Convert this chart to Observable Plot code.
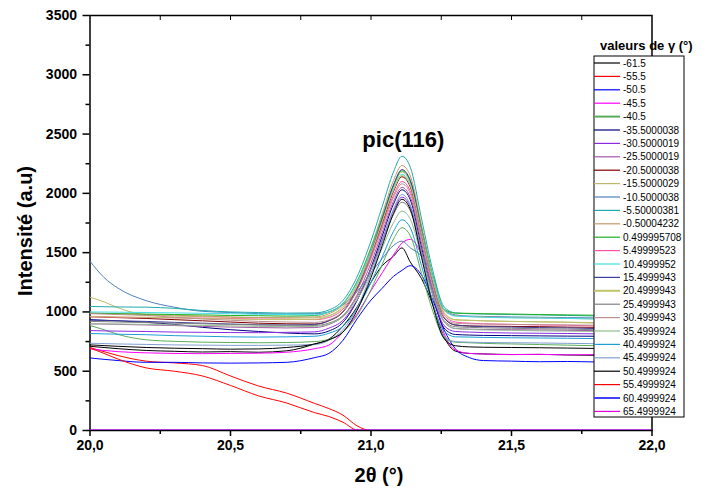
<!DOCTYPE html>
<html><head><meta charset="utf-8">
<script src="https://cdn.jsdelivr.net/npm/d3@7"></script>
<script src="https://cdn.jsdelivr.net/npm/@observablehq/plot@0.6"></script>
<style>body{margin:0;background:#fff}#chart{width:710px;height:492px}</style>
</head><body><div id="chart"></div>
<script>
// 2θ grid (degrees)
const twoTheta = [20.0,20.05,20.1,20.2,20.3,20.4,20.5,20.6,20.7,20.8,20.85,20.9,20.95,21.0,21.04,21.08,21.11,21.14,21.18,21.22,21.26,21.3,21.35,21.4,21.5,21.6,21.7,21.8,21.9,22.0];

const gammaLabels = ["-61.5","-55.5","-50.5","-45.5","-40.5","-35.5000038","-30.5000019","-25.5000019","-20.5000038","-15.5000029","-10.5000038","-5.50000381","-0.50004232","0.499995708","5.49999523","10.4999952","15.4999943","20.4999943","25.4999943","30.4999943","35.4999924","40.4999924","45.4999924","50.4999924","55.4999924","60.4999924","65.4999924"];

// intensities (a.u.) per γ value, on the 2θ grid
const g_m61_5 = [710,700,690,675,668,662,665,660,672,730, 770,880,1040,1250,1390,1470,1540,1420,1280,1060,790, 670,650,646,641,642,637,634,632,630];
const g_m55_5 = [700,665,632,585,570,548,460,375,315,228, 185,130,40,0,0,0,0,0,0,0,0, 0,0,0,0,0,0,0,0,0];
const g_m50_5 = [612,600,590,575,575,570,568,570,575,615, 650,760,940,1100,1200,1300,1350,1390,1310,1100,850, 690,615,590,585,580,582,578,575,575];
const g_m45_5 = [690,675,665,655,650,648,650,652,660,690, 720,830,980,1180,1330,1480,1580,1612,1480,1180,820, 680,650,645,640,642,638,640,636,635];
const g_m40_5 = [885,850,810,765,752,745,742,740,742,750, 770,830,967,1189,1401,1614,1710,1642,1324,1006,784, 745,740,735,730,725,720,715,712,710];
const g_m35_5 = [935,930,925,912,895,870,850,835,822,815, 839,912,1094,1374,1641,1909,2030,1945,1544,1143,864, 810,805,802,800,798,796,795,792,790];
const g_m30_5 = [843,840,838,835,830,828,826,825,828,832, 863,930,1099,1359,1607,1855,1968,1889,1517,1145,885, 835,830,826,822,820,818,815,812,810];
const g_m25_5 = [900,898,895,890,885,878,872,868,865,868, 894,964,1141,1413,1672,1932,2050,1967,1578,1189,917, 860,855,852,850,848,845,842,840,838];
const g_m20_5 = [960,956,952,945,935,925,915,905,900,898, 925,999,1185,1470,1743,2016,2140,2053,1644,1235,950, 890,882,880,878,876,872,870,868,865];
const g_m15_5 = [1124,1085,1035,975,965,960,955,952,948,950, 970,1044,1229,1513,1785,2057,2180,2094,1686,1278,994, 935,930,925,920,915,912,905,900,898];
const g_m10_5 = [1428,1290,1200,1095,1040,1005,995,985,982,985, 1000,1060,1170,1330,1450,1560,1597,1540,1470,1300,1020, 975,965,962,958,955,952,950,948,946];
const g_m5_5  = [1046,1044,1042,1040,1030,1012,1000,995,990,992, 1016,1096,1294,1599,1890,2181,2313,2220,1784,1347,1043, 992,985,982,978,975,970,966,962,960];
const g_m0_5  = [990,988,985,978,972,965,958,952,955,958, 985,1062,1253,1547,1827,2108,2235,2146,1725,1304,1011, 968,960,958,952,950,945,942,940,938];
const g_0_5   = [990,987,985,982,978,975,970,968,965,970, 999,1072,1254,1534,1801,2069,2190,2105,1704,1303,1024, 990,988,985,982,978,975,972,970,968];
const g_5_5   = [960,958,955,952,950,948,945,940,938,935, 953,1024,1199,1468,1726,1983,2100,2018,1632,1246,977, 915,905,900,895,890,888,882,880,878];
const g_10_5  = [1000,999,998,995,992,988,985,980,978,975, 999,1070,1248,1520,1781,2042,2160,2077,1686,1295,1022, 965,960,955,950,948,945,940,938,935];
const g_15_5  = [930,928,925,920,912,905,898,892,890,895, 926,1004,1199,1498,1784,2070,2200,2109,1680,1251,952, 890,880,876,872,868,865,860,858,855];
const g_20_5  = [960,959,958,955,950,945,940,936,935,938, 964,1037,1218,1497,1763,2029,2150,2065,1666,1267,988, 932,928,925,920,918,914,910,908,905];
const g_25_5  = [920,918,915,910,905,900,895,890,888,886, 906,968,1124,1363,1592,1821,1925,1852,1509,1166,927, 875,870,866,862,858,855,850,848,845];
const g_30_5  = [985,982,978,970,955,940,930,920,915,912, 933,1004,1179,1448,1706,1963,2080,1998,1612,1226,957, 905,900,898,895,893,890,888,886,885];
const g_35_5  = [900,899,898,895,890,886,882,878,876,878, 899,958,1103,1326,1540,1753,1850,1782,1462,1142,919, 860,852,848,845,840,838,835,832,830];
const g_40_5  = [818,815,812,808,800,795,790,788,790,795, 820,878,1025,1249,1464,1679,1777,1709,1386,1064,839, 790,788,785,782,780,778,775,772,770];
const g_45_5  = [736,733,730,726,722,720,718,718,720,725, 760,850,1031,1318,1592,1866,1990,1903,1492,1081,795, 750,745,742,740,738,735,732,730,728];
const g_50_5  = [722,716,710,700,694,690,686,688,700,730, 765,830,1010,1290,1560,1830,1950,1865,1460,1056,775, 715,705,702,700,698,695,692,690,688];
const g_55_5  = [695,650,602,528,500,460,380,292,232,150, 118,70,5,0,0,0,0,0,0,0,0, 0,0,0,0,0,0,0,0,0];
const g_60_5  = [0,0,0,0,0,0,0,0,0,0, 0,0,0,0,0,0,0,0,0,0,0, 0,0,0,0,0,0,0,0,0];
const g_65_5  = [0,0,0,0,0,0,0,0,0,0, 0,0,0,0,0,0,0,0,0,0,0, 0,0,0,0,0,0,0,0,0];

const seriesValues = [g_m61_5,g_m55_5,g_m50_5,g_m45_5,g_m40_5,g_m35_5,g_m30_5,g_m25_5,g_m20_5,g_m15_5,g_m10_5,g_m5_5,g_m0_5,g_0_5,g_5_5,g_10_5,g_15_5,g_20_5,g_25_5,g_30_5,g_35_5,g_40_5,g_45_5,g_50_5,g_55_5,g_60_5,g_65_5];

const yTicks = [0,500,1000,1500,2000,2500,3000,3500];
const yMinorTicks = [250,750,1250,1750,2250,2750,3250];
const xTicks = [20.0,20.5,21.0,21.5,22.0];
const xMinorTicks = [20.25,20.75,21.25,21.75];
const xTopTicks = [20.25,20.5,20.75,21.0,21.25,21.5,21.75];
const annotations = [{x: 21.115, y: 2450, text: "pic(116)"}];

// styles
const palette = ["#000000","#ff0000","#0000ff","#ff00ff","#5aac5a","#000080","#8a2be2","#a855a8","#800000","#bdb76b","#4f81bd","#20aaaa","#c49a6c","#1fb01f","#ff4fa7","#40dde8","#3d3d99","#bfc46a","#808080","#bc8f8f","#8fbc8f","#1e9ed6","#7f9fcf","#000000","#ff0000","#4040ff","#e000e0"];
const FONT = "'Liberation Sans', Arial, Helvetica, sans-serif";

const rows = seriesValues.flatMap((vals, k) => vals.map((v, i) => ({x: twoTheta[i], y: v, k})));

const lineMarks = seriesValues.map((vals, k) =>
  Plot.line(rows.filter(r => r.k === k), {x: "x", y: "y", stroke: palette[k], strokeWidth: k >= 25 ? 1.8 : 1, curve: "monotone-x", clip: true})
);

const chart = Plot.plot({
  width: 710, height: 492,
  marginLeft: 89.5, marginRight: 58.5, marginTop: 15, marginBottom: 62,
  style: {fontFamily: FONT, background: "#fff", overflow: "visible"},
  x: {domain: [20, 22], axis: null},
  y: {domain: [0, 3500], axis: null},
  marks: [
    Plot.frame({stroke: "#000", strokeWidth: 1.5}),
    ...lineMarks,
    Plot.axisY(yTicks, {tickSize: 7, tickPadding: 6, fontSize: 14, fontWeight: "bold", tickFormat: d => String(d), label: null, strokeWidth: 1.5, fill: "#000"}),
    Plot.axisY(yMinorTicks, {tickSize: 4, tickFormat: () => "", label: null, strokeWidth: 1.5}),
    Plot.axisX(xTicks, {tickSize: 6, tickPadding: 4, fontSize: 14, fontWeight: "bold", tickFormat: d => d.toFixed(1).replace(".", ","), label: null, strokeWidth: 1.5, fill: "#000"}),
    Plot.axisX(xMinorTicks, {tickSize: 4, tickFormat: () => "", label: null, strokeWidth: 1.5}),
    Plot.axisX(xTopTicks, {anchor: "top", tickSize: -4, tickFormat: () => "", label: null, strokeWidth: 1}),
    Plot.text(["Intensité (a.u)"], {frameAnchor: "left", dx: -64, dy: 8, rotate: -90, textAnchor: "middle", lineAnchor: "middle", fontSize: 20, fontWeight: "bold", fill: "#000"}),
    Plot.text(["2θ (°)"], {frameAnchor: "bottom", dx: 8, dy: 45, textAnchor: "middle", lineAnchor: "middle", fontSize: 20, fontWeight: "bold", fill: "#000"}),
    Plot.text(annotations, {x: "x", y: "y", text: "text", fontSize: 22, fontWeight: "bold", fill: "#000", textAnchor: "middle", lineAnchor: "middle"})
  ]
});

// legend (drawn over the plot, as in the original)
const svg = d3.select(chart);
const lg = svg.append("g").attr("font-family", FONT).attr("text-anchor", "start");
const lx = 594, ly = 56, lw = 90, lh = 361, rowStep = 13.4, firstRow = 63;
lg.append("rect").attr("x", lx).attr("y", ly).attr("width", lw).attr("height", lh)
  .attr("fill", "#fff").attr("stroke", "#000").attr("stroke-width", 1);
lg.append("text").attr("x", 600).attr("y", 50).attr("font-size", 13).attr("font-weight", "bold")
  .attr("text-anchor", "start").text("valeurs de γ (°)");
gammaLabels.forEach((lab, i) => {
  const y = firstRow + i * rowStep;
  lg.append("line").attr("x1", lx).attr("x2", lx + 26).attr("y1", y).attr("y2", y)
    .attr("stroke", palette[i]).attr("stroke-width", (i === 4 || i === 17 || i === 25) ? 2 : 1.2);
  lg.append("text").attr("x", lx + 29).attr("y", y).attr("dy", "0.35em").attr("font-size", 10)
    .attr("text-anchor", "start").attr("fill", "#000").text(lab);
});

document.getElementById("chart").appendChild(chart);
</script>
</body></html>
